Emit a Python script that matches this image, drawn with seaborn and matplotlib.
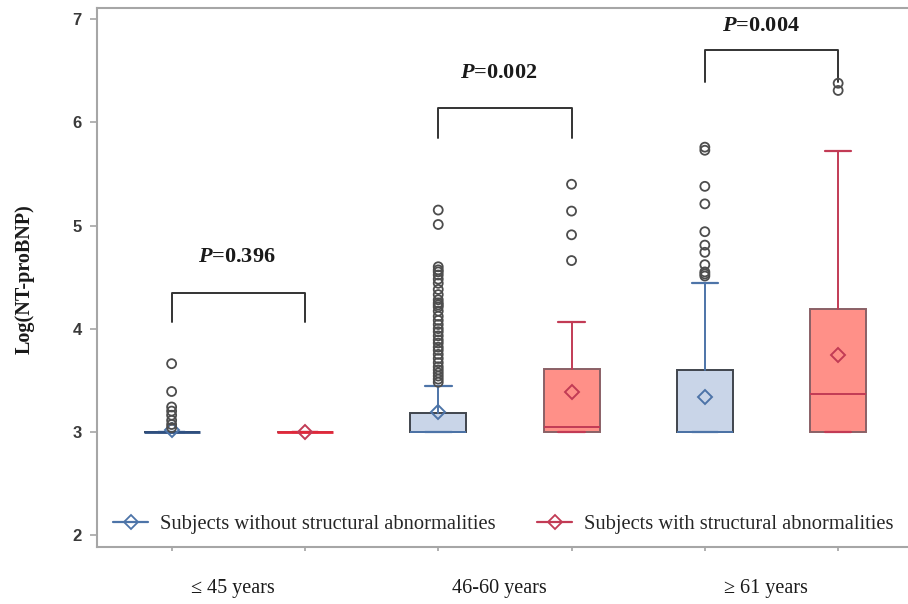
import matplotlib
matplotlib.use("Agg")
import matplotlib.pyplot as plt
from matplotlib.lines import Line2D
import seaborn as sns
import pandas as pd

# categories / series
groups = ["≤ 45 years", "46-60 years", "≥ 61 years"]
series = ["Subjects without structural abnormalities", "Subjects with structural abnormalities"]

# box statistics, order: (≤45 w/o, ≤45 with, 46-60 w/o, 46-60 with, ≥61 w/o, ≥61 with)
q1 = [3.0, 3.0, 3.0, 3.0, 3.0, 3.0]
medians = [3.0, 3.0, 3.0, 3.05, 3.0, 3.37]
q3 = [3.0, 3.0, 3.18, 3.61, 3.60, 4.19]
whisker_lo = [3.0, 3.0, 3.0, 3.0, 3.0, 3.0]
whisker_hi = [3.0, 3.0, 3.44, 4.06, 4.44, 5.72]
means = [3.02, 3.0, 3.19, 3.39, 3.34, 3.74]

# outliers per box
fliers_45_without = [3.66, 3.39, 3.24, 3.20, 3.16, 3.11, 3.07, 3.04]
fliers_45_with = []
fliers_60_without = [5.15, 5.01, 4.60, 4.57, 4.55, 4.52, 4.48, 4.44, 4.38, 4.33, 4.28,
                     4.25, 4.23, 4.21, 4.17, 4.12, 4.08, 4.04, 4.00, 3.97, 3.93, 3.89,
                     3.86, 3.82, 3.79, 3.75, 3.71, 3.67, 3.63, 3.60, 3.57, 3.54, 3.51, 3.48]
fliers_60_with = [5.40, 5.14, 4.91, 4.66]
fliers_61_without = [5.76, 5.73, 5.38, 5.21, 4.94, 4.81, 4.74, 4.62, 4.55, 4.53, 4.51]
fliers_61_with = [6.38, 6.31]

p_values = ["0.396", "0.002", "0.004"]

# layout of the significance brackets (data units)
bracket_top = [4.35, 6.14, 6.70]
bracket_foot = [4.06, 5.85, 6.39]
p_text_x = [0.49, 2.45, 4.42]
p_text_y = [4.69, 6.48, 6.94]

fill_colors = ["#c9d5e8", "#ff9088"]
edge_colors = ["#40454d", "#8a6066"]
line_colors = ["#4d74a8", "#c23b55"]

sns.set_theme(style="ticks")
plt.rcParams["font.family"] = ["Liberation Serif", "DejaVu Serif"]
plt.rcParams["mathtext.fontset"] = "custom"
plt.rcParams["mathtext.it"] = "Liberation Serif:italic:bold"
plt.rcParams["mathtext.rm"] = "Liberation Serif:bold"

fig = plt.figure(figsize=(9.08, 6.04), dpi=100)
ax = fig.add_axes([0.1068, 0.0949, 0.8932, 0.8919])

positions = list(range(6))
stats = []
for i in positions:
    stats.append(dict(q1=q1[i], med=medians[i], q3=q3[i], whislo=whisker_lo[i],
                      whishi=whisker_hi[i], mean=means[i], fliers=[]))

bp = ax.bxp(stats, positions=positions, widths=0.42, capwidths=0.2,
            patch_artist=True, showmeans=True, showfliers=False, manage_ticks=False,
            meanprops=dict(marker="D", markerfacecolor="none", markersize=7,
                           markeredgewidth=1.4))
for i in positions:
    s = i % 2
    box = bp["boxes"][i]
    box.set_facecolor(fill_colors[s])
    box.set_edgecolor(edge_colors[s])
    box.set_linewidth(1.4)
    for w in bp["whiskers"][2 * i:2 * i + 2]:
        w.set_color(line_colors[s])
        w.set_linewidth(1.4)
    for c in bp["caps"][2 * i:2 * i + 2]:
        c.set_color(line_colors[s])
        c.set_linewidth(1.6)
    bp["medians"][i].set_color(line_colors[s])
    bp["medians"][i].set_linewidth(1.4)
    bp["means"][i].set_markeredgecolor(line_colors[s])
    bp["means"][i].set_zorder(4)

# the collapsed boxes of the youngest group read as solid coloured bars
bp["medians"][0].set_color("#2e4f80")
bp["medians"][0].set_linewidth(2.0)
bp["medians"][1].set_color("#e0283a")
bp["medians"][1].set_linewidth(2.0)

# outliers
all_fliers = [fliers_45_without, fliers_45_with, fliers_60_without,
              fliers_60_with, fliers_61_without, fliers_61_with]
rows = []
for i, vals in enumerate(all_fliers):
    for v in vals:
        rows.append({"pos": positions[i], "value": v})
fl = pd.DataFrame(rows)
sns.scatterplot(data=fl, x="pos", y="value", marker="o", s=42, facecolor="none",
                edgecolor="#4d4d4d", linewidth=1.3, zorder=5, ax=ax, legend=False)

# significance brackets
for g in range(3):
    x0, x1 = positions[2 * g], positions[2 * g + 1]
    ax.plot([x0, x0, x1, x1], [bracket_foot[g], bracket_top[g], bracket_top[g], bracket_foot[g]],
            color="#333333", lw=1.4)
    ax.text(p_text_x[g], p_text_y[g], r"$P$=" + p_values[g], ha="center", va="center",
            fontsize=16, fontweight="bold", color="#1a1a1a")

ax.set_xlim(-0.56, 5.524)
ax.set_ylim(1.885, 7.11)
ax.set_xlabel("")
ax.set_ylabel("Log(NT-proBNP)", fontsize=14.5, fontweight="bold", color="#1a1a1a")
ax.yaxis.set_label_coords(-0.0765, 0.497)

ax.set_xticks(positions)
ax.set_xticklabels([""] * 6)
ax.set_xticks([0.46, 2.46, 4.46], minor=True)
ax.set_xticklabels(groups, minor=True, fontsize=14.5, color="#1a1a1a")
ax.tick_params(axis="x", which="major", length=3, color="#a6a6a6")
ax.tick_params(axis="x", which="minor", length=0, pad=23)

ax.set_yticks([2, 3, 4, 5, 6, 7])
ax.set_yticklabels(["2", "3", "4", "5", "6", "7"], family="Liberation Sans", fontsize=12,
                   fontweight="bold", color="#3a3a3a")
ax.tick_params(axis="y", length=5, color="#a6a6a6", width=1.2, pad=6)

for side in ["left", "top", "bottom"]:
    ax.spines[side].set_visible(True)
    ax.spines[side].set_color("#a6a6a6")
    ax.spines[side].set_linewidth(1.5)
ax.spines["right"].set_visible(False)

handles = [Line2D([], [], color=line_colors[s], marker="D", markerfacecolor="none",
                  markersize=7, markeredgewidth=1.3, lw=1.6) for s in range(2)]
ax.legend(handles, series, loc="center left", bbox_to_anchor=(0.02, 0.042),
          ncol=2, frameon=False, fontsize=14.8, borderpad=0, borderaxespad=0,
          handlelength=1.7, handletextpad=0.6, columnspacing=2.0)

fig.savefig("out.png", dpi=100)
